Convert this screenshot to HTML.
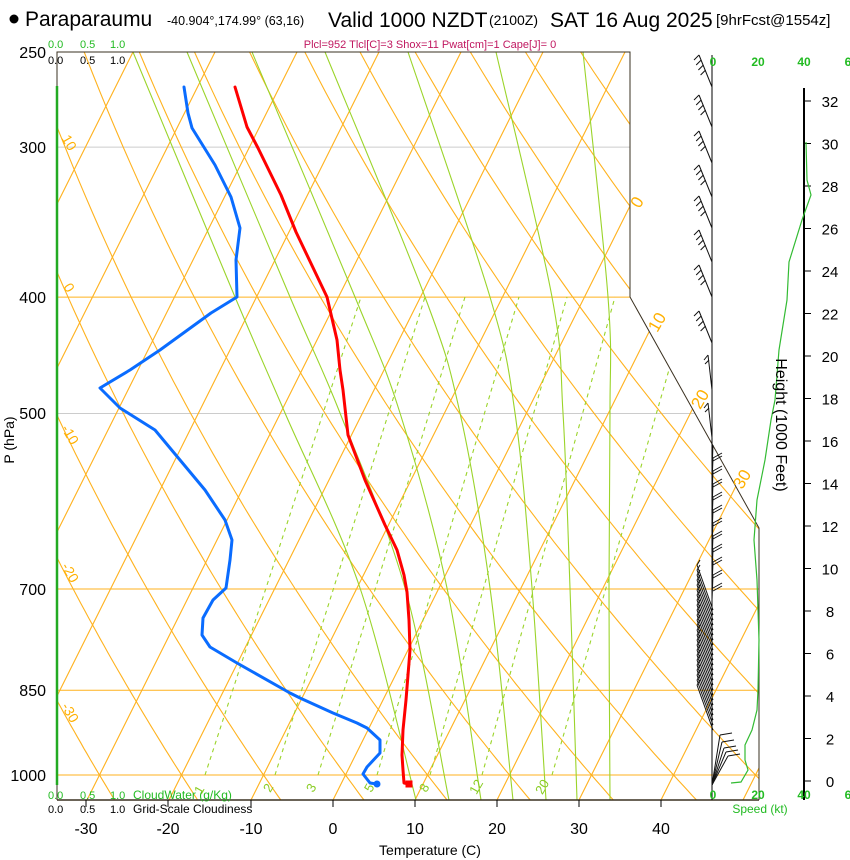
<!DOCTYPE html>
<html><head><meta charset="utf-8"><style>
html,body{margin:0;padding:0;background:#fff;width:850px;height:860px;overflow:hidden;}
svg{display:block;font-family:"Liberation Sans",Arial,sans-serif;}
</style></head><body>
<svg id="s" width="850" height="860" viewBox="0 0 850 860" xmlns="http://www.w3.org/2000/svg" overflow="hidden">
<defs><clipPath id="cp"><polygon points="57,52 630,52 630,297 759,528 759,800 57,800"/></clipPath></defs>
<rect width="850" height="860" fill="#fff"/>
<g id="grid" clip-path="url(#cp)" fill="none"></g>
<g id="prof" fill="none" stroke-linejoin="round" stroke-linecap="round">
<polyline stroke="#0a6cff" stroke-width="3" points="184,87 188,113 192,128 215,165 231,197 240,228 236,260 237,297 211,313 160,350 130,370 100,388 120,408 155,430 180,460 205,490 225,520 232,540 230,560 226,588 213,600 203,618 202,635 210,647 237,663 290,693 300,698 333,713 357,723 367,728 380,740 380,753 367,767 363,774 370,783 377,784"/>
<polyline stroke="#ff0000" stroke-width="3" points="235,87 247,127 258,148 281,195 296,232 327,297 337,340 340,370 343,390 348,435 365,480 385,525 397,550 404,575 407,592 409,620 410,650 406,700 403,730 402,755 403,770 404,783 409,784"/>
<circle cx="377" cy="784" r="3.5" fill="#0a6cff"/>
<rect x="405.5" y="780.5" width="7" height="7" fill="#ff0000"/>
</g>
<g fill="none" stroke="#000" stroke-width="1">
<polyline points="57,800 57,52 630,52 630,297 759,528 759,800" stroke="#3a3020"/>
<line x1="57" y1="800" x2="759" y2="800" stroke="#3a3020" stroke-width="1.5"/>
<line x1="804" y1="88" x2="804" y2="800" stroke-width="2"/>
<line x1="712" y1="55" x2="712" y2="800" stroke-width="1"/>
</g>
<line x1="57" y1="86" x2="57" y2="785" stroke="#22aa22" stroke-width="2.5"/>
<g id="ticks" stroke="#000" stroke-width="1"></g>
<g id="barbs" stroke="#111" stroke-width="1" fill="none"></g>
<polyline fill="none" stroke="#33bb33" stroke-width="1.2" points="806,142 807,180 811,195 802,220 789,262 787,300 779,350 775,400 771,420 765,460 757,500 754,540 757,580 759,640 758,690 757,710 752,730 745,745 745,760 748,770 741,782 731,783"/>
<g fill="#000">
<circle cx="14" cy="19" r="4.5" fill="#000"/>
<text x="25" y="26" font-size="21">Paraparaumu</text>
<text x="167" y="25" font-size="12.5">-40.904°,174.99° (63,16)</text>
<text x="328" y="27" font-size="21">Valid 1000 NZDT</text>
<text x="489" y="25" font-size="14">(2100Z)</text>
<text x="550" y="27" font-size="21">SAT 16 Aug 2025</text>
<text x="716" y="25" font-size="15">[9hrFcst@1554z]</text>
</g>
<text x="430" y="48" font-size="11" fill="#c01860" text-anchor="middle">Plcl=952 Tlcl[C]=3 Shox=11 Pwat[cm]=1 Cape[J]= 0</text>
<g font-size="11" fill="#22bb22"><text x="48" y="48">0.0</text><text x="80" y="48">0.5</text><text x="110" y="48">1.0</text></g>
<g font-size="11" fill="#000"><text x="48" y="64">0.0</text><text x="80" y="64">0.5</text><text x="110" y="64">1.0</text></g>
<g font-size="11" fill="#22bb22"><text x="48" y="799">0.0</text><text x="80" y="799">0.5</text><text x="110" y="799">1.0</text><text x="133" y="799" font-size="12">CloudWater (g/Kg)</text></g>
<g font-size="11" fill="#000"><text x="48" y="813">0.0</text><text x="80" y="813">0.5</text><text x="110" y="813">1.0</text><text x="133" y="813" font-size="12">Grid-Scale Cloudiness</text></g>
<g font-size="16" fill="#000" text-anchor="end">
<text x="46" y="58">250</text><text x="46" y="153">300</text><text x="46" y="303">400</text><text x="46" y="419">500</text><text x="46" y="595">700</text><text x="46" y="696">850</text><text x="46" y="781">1000</text>
</g>
<text transform="translate(14,440) rotate(-90)" font-size="14" text-anchor="middle">P (hPa)</text>
<g font-size="16" fill="#000" text-anchor="middle">
<text x="86" y="834">-30</text><text x="168" y="834">-20</text><text x="251" y="834">-10</text><text x="333" y="834">0</text><text x="415" y="834">10</text><text x="497" y="834">20</text><text x="579" y="834">30</text><text x="661" y="834">40</text>
</g>
<text x="430" y="855" font-size="14" text-anchor="middle">Temperature (C)</text>
<g font-size="12" fill="#22bb22" font-weight="bold" text-anchor="middle">
<text x="713" y="66">0</text><text x="758" y="66">20</text><text x="804" y="66">40</text><text x="848" y="66">6</text>
<text x="713" y="799">0</text><text x="758" y="799">20</text><text x="804" y="799">40</text><text x="848" y="799">6</text>
</g>
<text x="760" y="813" font-size="12" fill="#22bb22" text-anchor="middle">Speed (kt)</text>
<text transform="translate(776,425) rotate(90)" font-size="16" text-anchor="middle">Height (1000 Feet)</text>
<g font-size="15" fill="#000" text-anchor="middle" id="hl"></g>
<g font-size="14" fill="#ffb000" text-anchor="middle">
<text transform="translate(65,145) rotate(60)">10</text>
<text transform="translate(65,290) rotate(60)">0</text>
<text transform="translate(66,437) rotate(60)">-10</text>
<text transform="translate(66,575) rotate(60)">-20</text>
<text transform="translate(66,715) rotate(60)">-30</text>
<text transform="translate(642,205) rotate(-60)" font-size="17">0</text>
<text transform="translate(662,325) rotate(-60)" font-size="17">10</text>
<text transform="translate(705,402) rotate(-60)" font-size="17">20</text>
<text transform="translate(747,482) rotate(-60)" font-size="17">30</text>
</g>
<g font-size="13" fill="#88cc22" text-anchor="middle">
<text transform="translate(203,792) rotate(-60)">1</text>
<text transform="translate(272,790) rotate(-60)">2</text>
<text transform="translate(315,790) rotate(-60)">3</text>
<text transform="translate(373,790) rotate(-60)">5</text>
<text transform="translate(428,790) rotate(-60)">8</text>
<text transform="translate(480,789) rotate(-60)">12</text>
<text transform="translate(546,789) rotate(-60)">20</text>
</g>
<script>
(function(){
var NS="http://www.w3.org/2000/svg";
function el(p,n,a){var e=document.createElementNS(NS,n);for(var k in a)e.setAttribute(k,a[k]);p.appendChild(e);return e;}
function Y(p){return 775+521.5*Math.log(p/1000);}
function X(T,p){return 333+8.2*T+0.5*(800-Y(p));}
var g=document.getElementById('grid');
var OR="#ffb21e";
[300,400,500,700,850,1000].forEach(function(p){var y=Y(p);el(g,'line',{x1:57,x2:760,y1:y,y2:y,stroke:(p==300||p==500)?"#cccccc":OR,'stroke-width':1});});
for(var T=-140;T<=60;T+=10){el(g,'line',{x1:X(T,1060),y1:Y(1060),x2:X(T,240),y2:Y(240),stroke:OR,'stroke-width':1.1});}
for(var th=-60;th<=220;th+=10){var pts=[];for(var p=1060;p>=240;p-=10){var t=(th+273.15)*Math.pow(p/1000,0.286)-273.15;pts.push(X(t,p).toFixed(1)+','+Y(p).toFixed(1));}
el(g,'polyline',{points:pts.join(' '),stroke:OR,'stroke-width':1.1});}
var ml=[[416,360,285,235,133],[449,405,340,290,187],[481,447,400,355,252],[513,490,460,425,325],[546,532,515,490,408],[577,570,563,552,496],[610,609,610,608,583]];
var ys=[800,588,413,297,52];
ml.forEach(function(a){var d='M'+a[0]+','+ys[0];
for(var i=0;i<4;i++){var p0=i>0?i-1:i,p3=i<3?i+2:i+1;
var c1x=a[i]+(a[i+1]-a[p0])/6,c1y=ys[i]+(ys[i+1]-ys[p0])/6,c2x=a[i+1]-(a[p3]-a[i])/6,c2y=ys[i+1]-(ys[p3]-ys[i])/6;
d+=' C'+c1x+','+c1y+' '+c2x+','+c2y+' '+a[i+1]+','+ys[i+1];}
el(g,'path',{d:d,stroke:"#9bd42a",'stroke-width':1.1,fill:'none'});});
var mb=[205,275,318,377,430,482,552],mt=[361,425,465,519,567,615,690];
for(var i=0;i<7;i++){el(g,'line',{x1:mb[i],y1:775,x2:mt[i],y2:297,stroke:"#9bd42a",'stroke-width':1.1,'stroke-dasharray':'4,4'});}
var tk=document.getElementById('ticks');
[86,168,251,333,415,497,579,661].forEach(function(x){el(tk,'line',{x1:x,x2:x,y1:800,y2:807});});
var hl=document.getElementById('hl');
for(var h=0;h<=32;h+=2){var y=781-h*21.25;el(tk,'line',{x1:804,x2:811,y1:y,y2:y});var t=el(hl,'text',{x:830,y:y+6});t.textContent=h;}
var b=document.getElementById('barbs');
[87,127,163,197,228,262,297,343].forEach(function(y){
el(b,'line',{x1:712,y1:y,x2:699,y2:y-32});
for(var k=0;k<4;k++){var sx=699+k*2.2,sy=y-32+k*5;el(b,'line',{x1:sx,y1:sy,x2:sx-5,y2:sy+5});}
});
[390,438].forEach(function(y){el(b,'line',{x1:712,y1:y,x2:708,y2:y-35});el(b,'line',{x1:708,y1:y-35,x2:704,y2:y-30});el(b,'line',{x1:709,y1:y-30,x2:705,y2:y-26});});
for(var y=470;y<=600;y+=13){el(b,'line',{x1:712,y1:y,x2:713,y2:y-25});el(b,'line',{x1:713,y1:y-12,x2:722,y2:y-17});el(b,'line',{x1:713,y1:y-9,x2:722,y2:y-14});}
for(var y=610;y<=730;y+=5){el(b,'line',{x1:713,y1:y,x2:697,y2:y-45});el(b,'line',{x1:697,y1:y-45,x2:700,y2:y-50});}
[735,742,748,752,756].forEach(function(y,i){el(b,'line',{x1:712,y1:785,x2:720+i*2,y2:y});el(b,'line',{x1:720+i*2,y1:y,x2:732+i*2,y2:y-2});});
})();
</script>
</svg>
</body></html>
